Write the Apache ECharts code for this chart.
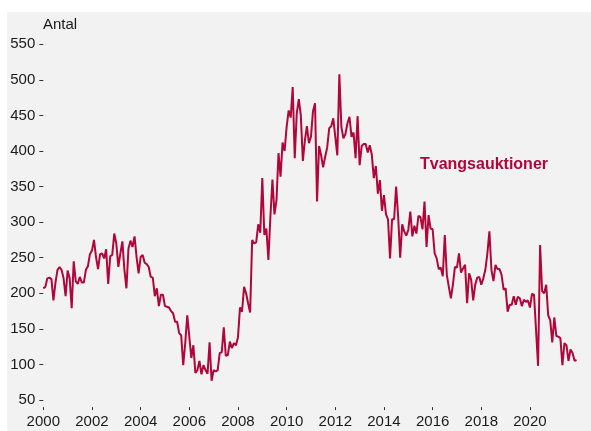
<!DOCTYPE html>
<html>
<head>
<meta charset="utf-8">
<script src="https://cdn.jsdelivr.net/npm/echarts@6/dist/echarts.min.js"></script>
<style>html,body{margin:0;padding:0;background:#fff;}#c{width:591px;height:431px;}</style>
</head>
<body>
<div id="c"></div>
<script>
// ---- data ----
const startYear = 2000;          // first observation: January 2000, monthly series
const seriesName = 'Tvangsauktioner';
const axisName = 'Antal';
const values = [
207,209,221,222,220,190,215,233,237,233,221,196,
232,221,179,245,217,213,223,215,215,233,238,255,
260,275,251,234,255,256,249,262,213,252,254,284,
270,237,256,273,233,207,263,274,265,280,251,228,
251,254,243,241,237,223,222,196,207,182,198,198,
182,181,180,175,172,160,160,144,141,99,130,169,
139,109,127,88,92,105,86,99,92,87,131,77,
92,90,92,116,117,152,112,113,132,123,130,127,
138,180,174,209,200,186,173,275,270,272,297,285,
362,282,291,247,308,360,311,331,397,364,412,400,
434,457,447,490,390,453,473,450,386,415,435,411,
420,456,467,329,407,394,377,392,405,432,435,446,
420,394,508,434,418,424,439,448,420,426,390,449,
380,407,410,410,398,408,395,362,379,340,359,316,
338,311,304,249,304,304,350,308,250,297,287,281,
289,315,280,295,284,309,307,290,329,265,310,291,
290,256,249,234,236,224,282,226,209,193,212,237,
236,256,229,235,240,186,228,219,190,212,222,223,
212,221,233,256,287,233,217,240,234,234,226,205,
207,174,184,184,196,184,195,193,182,191,188,190,
180,199,198,148,98,268,203,200,212,169,162,131,
166,140,139,137,99,130,127,105,121,116,105,106
];
const xTicks = [2000,2002,2004,2006,2008,2010,2012,2014,2016,2018,2020];
const yTicks = [50,100,150,200,250,300,350,400,450,500,550];

// ---- chart ----
const lineColor = '#b0063a';
const textColor = '#1a1a1a';
const font = 'Liberation Sans, Arial, sans-serif';
const points = values.map((v, i) => [startYear + i / 12, v]);
const chart = echarts.init(document.getElementById('c'), null, {renderer: 'canvas'});
chart.setOption({
  animation: false,
  backgroundColor: '#ffffff',
  graphic: [
    {type: 'rect', z: -100, silent: true, shape: {x: 7, y: 12, width: 584, height: 419}, style: {fill: '#f2f2f2'}},
    {type: 'text', silent: true, x: 43, y: 25, style: {text: axisName, font: '15px ' + font, fill: textColor, align: 'left', verticalAlign: 'middle'}},
    {type: 'text', silent: true, x: 484, y: 165, style: {text: seriesName, font: 'bold 16px ' + font, fill: lineColor, align: 'center', verticalAlign: 'middle'}}
  ],
  grid: {left: 43.3, top: 30.1, width: 533.3, height: 377, outerBoundsMode: 'none', containLabel: false},
  xAxis: {
    type: 'value', min: startYear, max: startYear + (values.length - 1) / 12,
    axisLine: {show: false}, splitLine: {show: false},
    axisTick: {show: true, customValues: xTicks, length: 3, lineStyle: {color: '#333', width: 1}},
    axisLabel: {customValues: xTicks, formatter: v => String(Math.round(v)), fontSize: 15, fontFamily: font, color: textColor, margin: 7, showMinLabel: true, showMaxLabel: true}
  },
  yAxis: {
    type: 'value', min: 40, max: 570,
    axisLine: {show: false}, splitLine: {show: false},
    axisTick: {show: true, customValues: yTicks, length: 4, lineStyle: {color: '#333', width: 1}},
    axisLabel: {customValues: yTicks, fontSize: 15, fontFamily: font, color: textColor, margin: 8}
  },
  series: [{
    name: seriesName, type: 'line', data: points, showSymbol: false, symbol: 'none',
    lineStyle: {color: lineColor, width: 2}, z: 3
  }]
});
</script>
</body>
</html>
